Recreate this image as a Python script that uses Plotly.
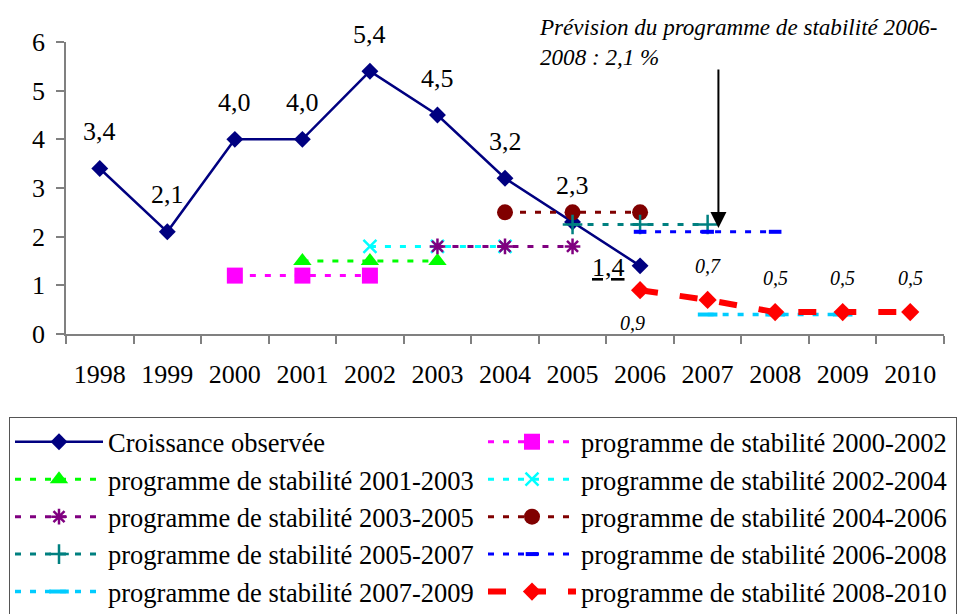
import plotly.graph_objects as go

# ---------------- data ----------------
years = ["1998", "1999", "2000", "2001", "2002", "2003", "2004",
         "2005", "2006", "2007", "2008", "2009", "2010"]

obs_years = ["1998", "1999", "2000", "2001", "2002", "2003", "2004", "2005", "2006"]
obs_values = [3.4, 2.1, 4.0, 4.0, 5.4, 4.5, 3.2, 2.3, 1.4]

ps_2000_2002_x = ["2000", "2001", "2002"]
ps_2000_2002_y = [1.2, 1.2, 1.2]
ps_2001_2003_x = ["2001", "2002", "2003"]
ps_2001_2003_y = [1.5, 1.5, 1.5]
ps_2002_2004_x = ["2002", "2003", "2004"]
ps_2002_2004_y = [1.8, 1.8, 1.8]
ps_2003_2005_x = ["2003", "2004", "2005"]
ps_2003_2005_y = [1.8, 1.8, 1.8]
ps_2004_2006_x = ["2004", "2005", "2006"]
ps_2004_2006_y = [2.5, 2.5, 2.5]
ps_2005_2007_x = ["2005", "2006", "2007"]
ps_2005_2007_y = [2.25, 2.25, 2.25]
ps_2006_2008_x = ["2006", "2007", "2008"]
ps_2006_2008_y = [2.1, 2.1, 2.1]
ps_2007_2009_x = ["2007", "2008", "2009"]
ps_2007_2009_y = [0.4, 0.4, 0.4]
ps_2008_2010_x = ["2006", "2007", "2008", "2009", "2010"]
ps_2008_2010_y = [0.9, 0.7, 0.45, 0.45, 0.45]
ps_2008_2010_labels = ["0,9", "0,7", "0,5", "0,5", "0,5"]

y_ticks = [0, 1, 2, 3, 4, 5, 6]

note_text = "Prévision du programme de stabilité 2006-<br>2008 : 2,1 %"
note_year = "2007"
note_value = 2.1

# ---------------- figure ----------------
FONT = "Liberation Serif, Times New Roman, serif"
fig = go.Figure()

fig.add_trace(go.Scatter(
    x=obs_years, y=obs_values, name="Croissance observée", mode="lines+markers",
    line=dict(color="#000080", width=2.5),
    marker=dict(symbol="diamond", size=13, color="#000080")))

def prog(name, xs, ys, color, symbol, size, dash, width=3, mline=None, mcolor=None):
    marker = dict(symbol=symbol, size=size, color=mcolor or color)
    if mline:
        marker["line"] = dict(color=color, width=mline)
    fig.add_trace(go.Scatter(
        x=xs, y=ys, name=name, mode="lines+markers",
        line=dict(color=color, width=width, dash=dash), marker=marker))

prog("programme de stabilité 2000-2002", ps_2000_2002_x, ps_2000_2002_y,
     "#FF00FF", "square", 16, "6px,9px")
prog("programme de stabilité 2001-2003", ps_2001_2003_x, ps_2001_2003_y,
     "#00FF00", "triangle-up", 16, "6px,9px")
prog("programme de stabilité 2002-2004", ps_2002_2004_x, ps_2002_2004_y,
     "#00FFFF", "x-thin", 13, "6px,9px", mline=2.5)
prog("programme de stabilité 2003-2005", ps_2003_2005_x, ps_2003_2005_y,
     "#800080", "asterisk", 13, "6px,9px", mline=2.5)
prog("programme de stabilité 2004-2006", ps_2004_2006_x, ps_2004_2006_y,
     "#800000", "circle", 16, "6px,9px")
prog("programme de stabilité 2005-2007", ps_2005_2007_x, ps_2005_2007_y,
     "#008080", "cross-thin", 14, "6px,9px", mline=2.5)
prog("programme de stabilité 2006-2008", ps_2006_2008_x, ps_2006_2008_y,
     "#0000FF", "line-ew", 9, "6px,9px", mline=4)
prog("programme de stabilité 2007-2009", ps_2007_2009_x, ps_2007_2009_y,
     "#00CCFF", "line-ew", 14, "6px,9px", width=3.5, mline=4)
prog("programme de stabilité 2008-2010", ps_2008_2010_x, ps_2008_2010_y,
     "#FF0000", "diamond", 14, "18px,22px", width=6)

def cat(x):
    # category serial number on the x axis
    return years.index(x)

annotations = []
# observed data labels
for i, (x, v) in enumerate(zip(obs_years, obs_values)):
    txt = f"{v:.1f}".replace(".", ",")
    if i == len(obs_values) - 1:
        annotations.append(dict(x=cat(x), y=v, text="<u>" + txt + "</u>", showarrow=False,
                                xshift=-32, yshift=-2, font=dict(size=26, family=FONT, color="black")))
    else:
        annotations.append(dict(x=cat(x), y=v, text=txt, showarrow=False, yshift=37,
                                font=dict(size=26, family=FONT, color="black")))
# 2008-2010 programme labels (italic)
for i, (x, v, t) in enumerate(zip(ps_2008_2010_x, ps_2008_2010_y, ps_2008_2010_labels)):
    annotations.append(dict(x=cat(x), y=v, text="<i>" + t + "</i>", showarrow=False,
                            xshift=-8 if i == 0 else 0, yshift=-33 if i == 0 else 34,
                            font=dict(size=20, family=FONT, color="black")))
# note + arrow
annotations.append(dict(xref="paper", yref="paper", x=(537 - 66) / 878, y=1 + (42 - 12) / 292,
                        xanchor="left", yanchor="top", align="left", showarrow=False,
                        text="<i>" + note_text + "</i>",
                        font=dict(size=23.1, family=FONT, color="black")))
annotations.append(dict(x=cat(note_year) + 0.16, y=note_value + 0.08, xref="x", yref="y",
                        text="", showarrow=True, ax=0, ay=-160, arrowhead=2, arrowsize=1.6,
                        arrowwidth=2, arrowcolor="black"))

fig.update_layout(
    width=959, height=614,
    margin=dict(l=66, r=15, t=42, b=280, autoexpand=False),
    paper_bgcolor="white", plot_bgcolor="white",
    font=dict(family=FONT, size=26, color="black"),
    showlegend=True,
    legend=dict(orientation="h", x=(9 - 66) / 878, xanchor="left",
                y=-(417 - 334) / 292, yanchor="top",
                bordercolor="#555555", borderwidth=1, bgcolor="white",
                entrywidth=370, entrywidthmode="pixels", itemwidth=88,
                font=dict(size=26.5, family=FONT, color="black"), tracegroupgap=0),
    annotations=annotations,
    xaxis=dict(type="category", categoryorder="array", categoryarray=years,
               range=[-0.5, len(years) - 0.5], tickson="boundaries",
               ticks="outside", ticklen=8, tickcolor="#808080", tickwidth=1.5,
               showline=True, linecolor="#808080", linewidth=1.5,
               showgrid=False, zeroline=False, ticklabelstandoff=16,
               tickfont=dict(size=26, family=FONT, color="black")),
    yaxis=dict(range=[0, 6], tickvals=y_ticks, ticks="outside", ticklen=8,
               tickcolor="#808080", tickwidth=1.5, showline=True, linecolor="#808080",
               linewidth=1.5, showgrid=False, zeroline=False, ticklabelstandoff=6,
               tickfont=dict(size=26, family=FONT, color="black")),
)

fig.write_html("out.html", config={"displayModeBar": False},
               post_script="document.body.style.margin='0';")
